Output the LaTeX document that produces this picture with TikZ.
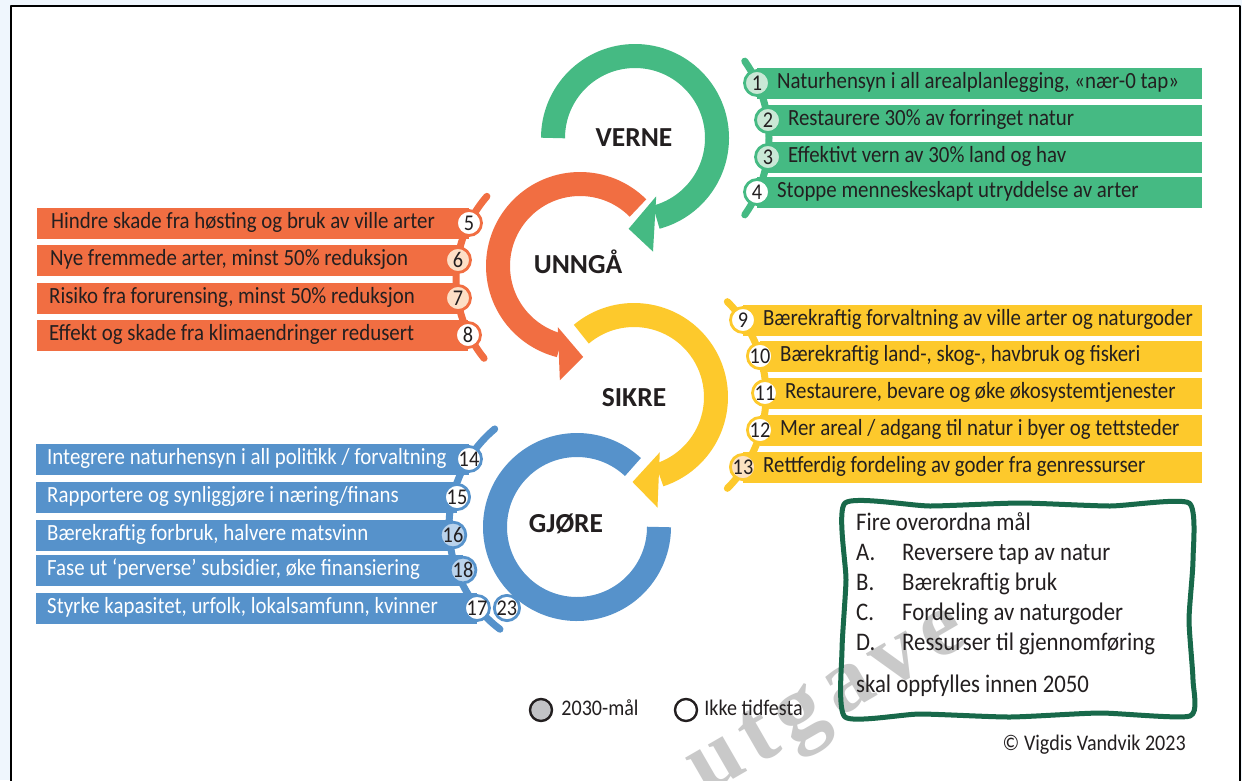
\documentclass[tikz,border=0pt]{standalone}
\usepackage{fontspec}
\setmainfont{Carlito}[FakeStretch=0.9]
\newfontfamily\phasefont{Carlito}
\newfontfamily\wmfont[LetterSpace=10]{Liberation Serif}
\usetikzlibrary{positioning}

\definecolor{cVerne}{HTML}{45BA83}
\definecolor{cUnnga}{HTML}{F16E42}
\definecolor{cSikre}{HTML}{FDC92C}
\definecolor{cGjore}{HTML}{5692CB}
\definecolor{lVerne}{HTML}{CAE8D6}
\definecolor{lUnnga}{HTML}{FDDFC6}
\definecolor{lSikre}{HTML}{FCE2C2}
\definecolor{lGjore}{HTML}{BAD3EC}
\definecolor{txtdark}{HTML}{231F20}
\definecolor{boxgreen}{HTML}{18694A}
\definecolor{pagebg}{HTML}{EFF6FD}
\definecolor{leggray}{HTML}{C2C3C6}
\definecolor{wmgray}{HTML}{C9C9C9}

\tikzset{
  ring/.style={line width=24pt},
  bracket/.style={line width=7pt,line cap=round},
  num/.style={circle,draw,line width=2.8pt,minimum size=25pt,inner sep=0pt,fill=white,text=txtdark,font=\fontsize{22.5}{22.5}\selectfont},
  rowtxt/.style={inner sep=0pt,text height=15pt,text depth=4pt,text=txtdark,font=\fontsize{23.2}{25}\selectfont},
  phasetxt/.style={inner sep=0pt,text height=18pt,text depth=0pt,text=txtdark,font=\phasefont\fontsize{27.5}{30}\selectfont\bfseries},
  goaltxt/.style={anchor=west,inner sep=0pt,text height=16pt,text depth=5pt,text=txtdark,font=\fontsize{25.3}{27}\selectfont},
  legcirc/.style={circle,draw=txtdark,line width=2.4pt,minimum size=22pt,inner sep=0pt},
  legtxt/.style={inner sep=0pt,text height=14pt,text depth=4pt,text=txtdark,font=\fontsize{22.3}{24}\selectfont}
}

\begin{document}
\begin{tikzpicture}[x=1pt,y=-1pt,line join=round]
\useasboundingbox (0,0) rectangle (1242,780);
\clip (0,0) rectangle (1242,780);
\fill[pagebg] (0,0) rectangle (1242,780);
\draw[line width=2.5pt,fill=white] (11,6) rectangle (1240,800);
% watermark
\node[rotate=30,inner sep=0pt,text=wmgray,font=\wmfont\bfseries\fontsize{92}{92}\selectfont] (wm) at (830,705) {utgave};

% the four rings
\draw[ring,cVerne] ([shift={(635,138)}]180:82) arc[start angle=180,end angle=435,radius=82];
\fill[cVerne] ([shift={(635,138)}]70:62) -- ([shift={(635,138)}]94:91) -- ([shift={(635,138)}]81:115) -- cycle;
\draw[ring,cUnnga] ([shift={(580,266)}]315:82) arc[start angle=315,end angle=104,radius=82];
\fill[cUnnga] ([shift={(580,266)}]110:65) -- ([shift={(580,266)}]88:91) -- ([shift={(580,266)}]100:116) -- cycle;
\draw[ring,cSikre] ([shift={(634,397)}]230:82) arc[start angle=230,end angle=432,radius=82];
\fill[cSikre] ([shift={(634,397)}]65:61) -- ([shift={(634,397)}]91:85) -- ([shift={(634,397)}]78:113) -- cycle;
\draw[ring,cGjore] ([shift={(577,527)}]313:82) arc[start angle=313,end angle=0,radius=82];

\node[phasetxt] (verne) at (634,137) {VERNE};
\node[phasetxt] (unnga) at (578,264) {UNNGÅ};
\node[phasetxt] (sikre) at (634,397) {SIKRE};
\node[phasetxt] (gjore) at (566,523) {GJØRE};

% VERNE
\coordinate (p1) at (757,83);
\coordinate (p2) at (768,120);
\coordinate (p3) at (768,157);
\coordinate (p4) at (757,192);
\draw[bracket,cVerne] ([shift={(635,138)}]-35:134) arc[start angle=-35,end angle=35,radius=134];
\fill[cVerne] ([yshift=15.5pt]p1) rectangle (1202,98.5);
\fill[cVerne] ([yshift=15.5pt]p2) rectangle (1202,135.5);
\fill[cVerne] ([yshift=15.5pt]p3) rectangle (1202,172.5);
\fill[cVerne] ([yshift=15.5pt]p4) rectangle (1202,207.5);
\node[num,draw=cVerne,fill=lVerne] (n1) at (p1) {1};
\node[num,draw=cVerne,fill=lVerne] (n2) at (p2) {2};
\node[num,draw=cVerne,fill=lVerne] (n3) at (p3) {3};
\node[num,draw=cVerne] (n4) at (p4) {4};
\node[rowtxt,right=6pt of n1] (t1) {Naturhensyn i all arealplanlegging, «nær-0 tap»};
\node[rowtxt,right=6pt of n2] (t2) {Restaurere 30\% av forringet natur};
\node[rowtxt,right=6pt of n3] (t3) {Effektivt vern av 30\% land og hav};
\node[rowtxt,right=6pt of n4] (t4) {Stoppe menneskeskapt utryddelse av arter};

% UNNGAA
\coordinate (p5) at (469,223);
\coordinate (p6) at (458,260);
\coordinate (p7) at (458,298);
\coordinate (p8) at (468,335);
\draw[bracket,cUnnga] ([shift={(582,279)}]141:126) arc[start angle=141,end angle=221,radius=126];
\fill[cUnnga] (37,207.5) rectangle ([yshift=-15.5pt]p5);
\fill[cUnnga] (37,244.5) rectangle ([yshift=-15.5pt]p6);
\fill[cUnnga] (37,282.5) rectangle ([yshift=-15.5pt]p7);
\fill[cUnnga] (37,319.5) rectangle ([yshift=-15.5pt]p8);
\node[num,draw=cUnnga] (n5) at (p5) {5};
\node[num,draw=cUnnga,fill=lUnnga] (n6) at (p6) {6};
\node[num,draw=cUnnga,fill=lUnnga] (n7) at (p7) {7};
\node[num,draw=cUnnga] (n8) at (p8) {8};
\node[rowtxt,anchor=west] (t5) at (51,223) {Hindre skade fra høsting og bruk av ville arter};
\node[rowtxt,anchor=west] (t6) at (50,260) {Nye fremmede arter, minst 50\% reduksjon};
\node[rowtxt,anchor=west] (t7) at (49,298) {Risiko fra forurensing, minst 50\% reduksjon};
\node[rowtxt,anchor=west] (t8) at (49,335) {Effekt og skade fra klimaendringer redusert};

% SIKRE
\coordinate (p9) at (743,320);
\coordinate (p10) at (760,356);
\coordinate (p11) at (765,393);
\coordinate (p12) at (760,430);
\coordinate (p13) at (743,467);
\draw[bracket,cSikre] ([shift={(634,395)}]-45:132) arc[start angle=-45,end angle=45,radius=132];
\fill[cSikre] ([yshift=15.5pt]p9) rectangle (1202,335.5);
\fill[cSikre] ([yshift=15.5pt]p10) rectangle (1202,371.5);
\fill[cSikre] ([yshift=15.5pt]p11) rectangle (1202,408.5);
\fill[cSikre] ([yshift=15.5pt]p12) rectangle (1202,445.5);
\fill[cSikre] ([yshift=15.5pt]p13) rectangle (1202,482.5);
\node[num,draw=cSikre] (n9) at (p9) {9};
\node[num,draw=cSikre] (n10) at (p10) {10};
\node[num,draw=cSikre] (n11) at (p11) {11};
\node[num,draw=cSikre] (n12) at (p12) {12};
\node[num,draw=cSikre,fill=lSikre] (n13) at (p13) {13};
\node[rowtxt,right=6pt of n9] (t9) {Bærekraftig forvaltning av ville arter og naturgoder};
\node[rowtxt,right=6pt of n10] (t10) {Bærekraftig land-, skog-, havbruk og fiskeri};
\node[rowtxt,right=6pt of n11] (t11) {Restaurere, bevare og øke økosystemtjenester};
\node[rowtxt,right=6pt of n12] (t12) {Mer areal / adgang til natur i byer og tettsteder};
\node[rowtxt,right=6pt of n13] (t13) {Rettferdig fordeling av goder fra genressurser};

% GJOERE
\coordinate (p14) at (469,459);
\coordinate (p15) at (457,497);
\coordinate (p16) at (453,535);
\coordinate (p18) at (463,570);
\coordinate (p17) at (477,608);
\draw[bracket,cGjore] ([shift={(577,527)}]127:128) arc[start angle=127,end angle=230,radius=128];
\fill[cGjore] (36,443.5) rectangle ([yshift=-15.5pt]p14);
\fill[cGjore] (36,481.5) rectangle ([yshift=-15.5pt]p15);
\fill[cGjore] (36,519.5) rectangle ([yshift=-15.5pt]p16);
\fill[cGjore] (36,554.5) rectangle ([yshift=-15.5pt]p18);
\fill[cGjore] (36,592.5) rectangle ([yshift=-15.5pt]p17);
\node[num,draw=cGjore] (n14) at (p14) {14};
\node[num,draw=cGjore] (n15) at (p15) {15};
\node[num,draw=cGjore,fill=lGjore] (n16) at (p16) {16};
\node[num,draw=cGjore,fill=lGjore] (n18) at (p18) {18};
\node[num,draw=cGjore] (n17) at (p17) {17};
\node[num,draw=cGjore,right=2pt of n17] (n23) {23};
\node[rowtxt,anchor=west,text=white] (t14) at (47,459) {Integrere naturhensyn i all politikk / forvaltning};
\node[rowtxt,anchor=west,text=white] (t15) at (47,497) {Rapportere og synliggjøre i næring/finans};
\node[rowtxt,anchor=west,text=white] (t16) at (47,535) {Bærekraftig forbruk, halvere matsvinn};
\node[rowtxt,anchor=west,text=white] (t18) at (47,570) {Fase ut ‘perverse’ subsidier, øke finansiering};
\node[rowtxt,anchor=west,text=white] (t17) at (47,608) {Styrke kapasitet, urfolk, lokalsamfunn, kvinner};

% goals box
\draw[boxgreen,line width=5pt] plot[smooth cycle,tension=0.35] coordinates {(845,503) (930,506) (1020,503) (1110,506) (1189,503) (1193,560) (1189,620) (1193,680) (1190,716) (1100,713) (1010,717) (920,714) (845,717) (842,650) (846,580)};
\node[goaltxt] (g0) at (856,525) {Fire overordna mål};
\node[goaltxt] (gA) at (856,555) {A.};
\node[goaltxt] (gB) at (856,585) {B.};
\node[goaltxt] (gC) at (856,615) {C.};
\node[goaltxt] (gD) at (856,645) {D.};
\node[goaltxt] (gAt) at (902,555) {Reversere tap av natur};
\node[goaltxt] (gBt) at (902,585) {Bærekraftig bruk};
\node[goaltxt] (gCt) at (902,615) {Fordeling av naturgoder};
\node[goaltxt] (gDt) at (902,645) {Ressurser til gjennomføring};
\node[goaltxt] (g5) at (856,687) {skal oppfylles innen 2050};

% legend
\node[legcirc,fill=leggray] (leg1) at (541,710) {};
\node[legtxt,right=8pt of leg1] (legt1) {2030-mål};
\node[legcirc,fill=white] (leg2) at (686,710) {};
\node[legtxt,right=6pt of leg2] (legt2) {Ikke tidfesta};
\node[legtxt,anchor=east] (copy) at (1186,745) {© Vigdis Vandvik 2023};
\end{tikzpicture}
\end{document}
